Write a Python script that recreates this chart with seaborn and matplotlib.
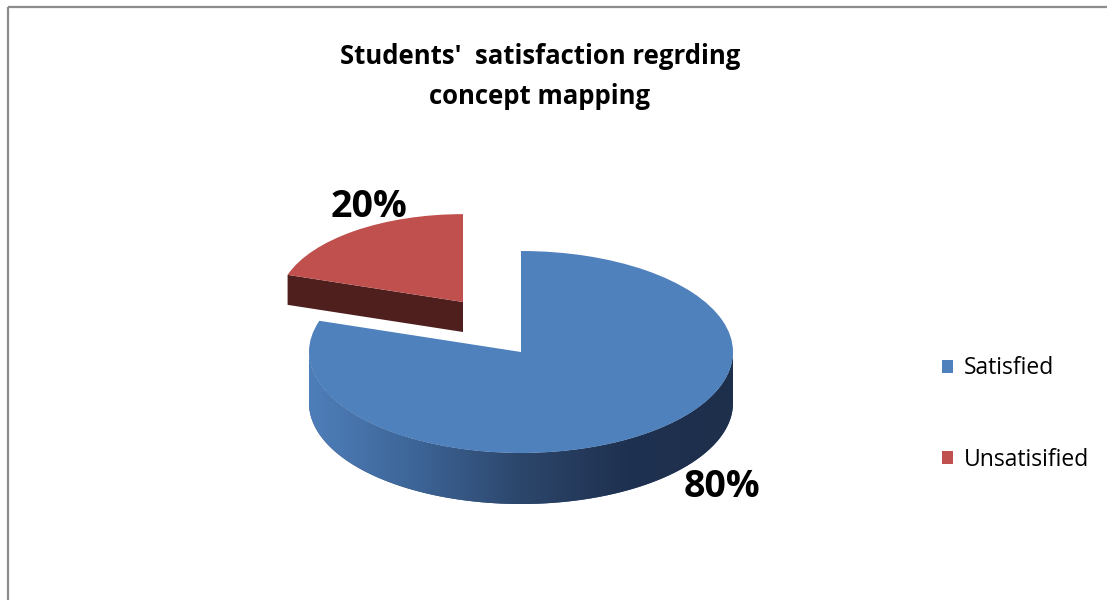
import numpy as np
import matplotlib
matplotlib.use("Agg")
import matplotlib.pyplot as plt
import seaborn as sns
from matplotlib.transforms import Affine2D
from matplotlib.patches import Polygon, Rectangle
from matplotlib.colors import LinearSegmentedColormap

# ---- data ----
categories = ["Satisfied", "Unsatisified"]
values = [80, 20]
pct_labels = ["80%", "20%"]
title_lines = ["Students'  satisfaction regrding", "concept mapping"]

# ---- styles ----
top_colors = ["#4F81BD", "#C0504D"]
side_colors = ["#2E4870", "#4F1F1E"]
blue_side_grad = ["#4E7EB9", "#3D6597", "#2C466B", "#1F3150", "#1E2F4C"]

sns.set_theme(style="white")
plt.rcParams["font.family"] = ["Open Sans", "DejaVu Sans"]

fig = plt.figure(figsize=(11.07, 6), dpi=100)
ax = fig.add_axes([0, 0, 1, 1])
wedges, _ = ax.pie(values, colors=top_colors, startangle=90, counterclock=False,
                   wedgeprops=dict(linewidth=0))
ax.set_aspect("auto")

RX, RY = 212, 101
# per slice: centre x, centre y, perspective scale, depth (px)
geom = [(521, 352, 1.0, 51), (463, 302, 0.87, 30)]
z_top = [4, 2]
z_side = [3, 1]


def tf(cx, cy, s, dy=0.0):
    return Affine2D().scale(RX * s, -RY * s).translate(cx, cy + dy)


cmap = LinearSegmentedColormap.from_list("side", blue_side_grad)

for i, w in enumerate(wedges):
    cx, cy, s, depth = geom[i]
    t1, t2 = w.theta1, w.theta2
    w.set_transform(tf(cx, cy, s) + ax.transData)
    w.set_zorder(z_top[i])
    w.set_antialiased(True)

    # curved outer side (front half only)
    th = np.radians(np.linspace(t1, t2, 600))
    front = np.sin(th) < 0
    if front.any():
        pts = np.c_[np.cos(th[front]), np.sin(th[front])]
        top = tf(cx, cy, s).transform(pts)
        bot = tf(cx, cy, s, depth).transform(pts)
        poly = np.vstack([top, bot[::-1]])
        patch = Polygon(poly, closed=True, facecolor=side_colors[i],
                        edgecolor="none", zorder=z_side[i])
        ax.add_patch(patch)
        xmin, xmax = poly[:, 0].min(), poly[:, 0].max()
        ymin, ymax = poly[:, 1].min(), poly[:, 1].max()
        if i == 0:
            im = ax.imshow(np.linspace(0, 1, 256)[None, :], cmap=cmap,
                           extent=[xmin, xmax, ymax, ymin], aspect="auto",
                           zorder=z_side[i], interpolation="bilinear")
            im.set_clip_path(patch)

    # radial faces
    for a, nrm in [(t1, t1 - 90), (t2, t2 + 90)]:
        if np.sin(np.radians(nrm)) < -1e-6:
            pts = np.array([[0, 0], [np.cos(np.radians(a)), np.sin(np.radians(a))]])
            top = tf(cx, cy, s).transform(pts)
            bot = tf(cx, cy, s, depth).transform(pts)
            poly = np.array([top[0], top[1], bot[1], bot[0]])
            ax.add_patch(Polygon(poly, closed=True, facecolor=side_colors[i],
                                 edgecolor="none", zorder=z_side[i]))

ax.set_xlim(0, 1107)
ax.set_ylim(600, 0)
ax.axis("off")

# percentage labels
label_pos = [(722, 487), (369, 207)]
for (x, y), t in zip(label_pos, pct_labels):
    ax.text(x, y, t, ha="center", va="center", fontsize=27, fontweight="bold",
            color="black", zorder=6)

# title
ax.text(540, 57, title_lines[0], ha="center", va="center", fontsize=18.5,
        fontweight="bold", color="black")
ax.text(540, 96, title_lines[1], ha="center", va="center", fontsize=18.5,
        fontweight="bold", color="black")

# legend
leg = ax.legend(wedges, categories, loc="center left", bbox_to_anchor=(942, 414),
                bbox_transform=ax.transData, frameon=False, fontsize=16.5,
                handlelength=0.5, handleheight=0.5, handletextpad=0.45,
                labelspacing=2.95, borderpad=0, borderaxespad=0)
for t in leg.get_texts():
    t.set_color("black")

# outer frame
ax.add_patch(Rectangle((8, 7), 1300, 800, fill=False, edgecolor="#8C8C8C",
                       linewidth=1.6, zorder=0))

fig.savefig("out.png", dpi=100)
